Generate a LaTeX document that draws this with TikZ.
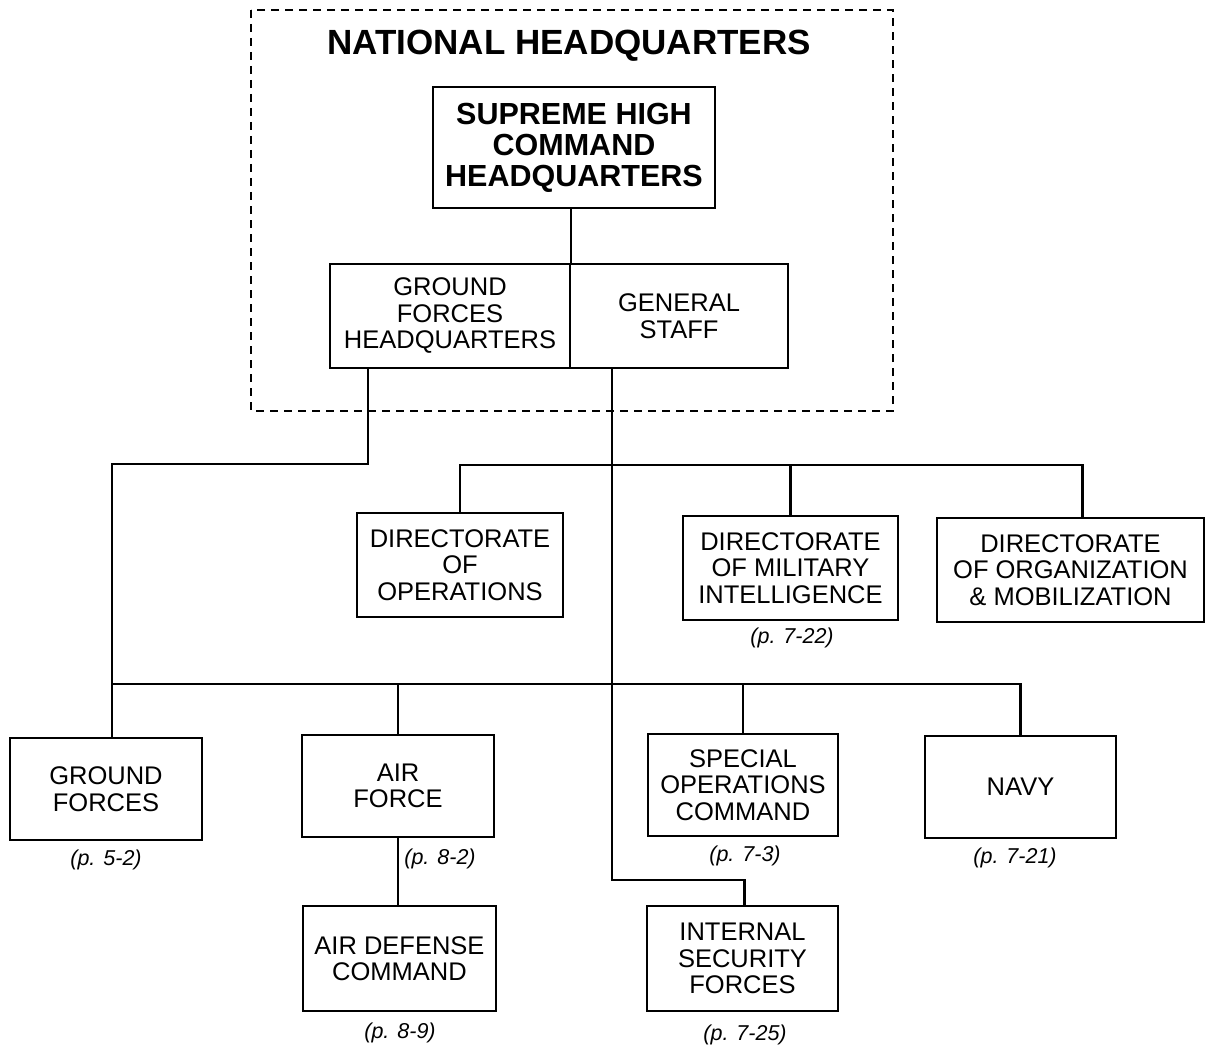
\documentclass[tikz,border=0pt]{standalone}
\usepackage{fontspec}
\setmainfont{Liberation Sans}
\begin{document}
\begin{tikzpicture}[x=1pt,y=-1pt,
  box/.style={draw,line width=2.2pt,rectangle,inner sep=0pt,align=center,
    font=\fontsize{25.5}{26.5}\selectfont},
  bbox/.style={box,font=\fontsize{30.5}{31}\selectfont\bfseries},
  ref/.style={inner sep=0pt,font=\fontsize{21.5}{23}\selectfont\itshape},
  conn/.style={line width=2.2pt},
  frame/.style={line width=1.2pt,dash pattern=on 8pt off 6pt}]
\useasboundingbox (0,0) rectangle (1209,1051);
\fill[white] (0,0) rectangle (1209,1051);
\draw[frame] (251,10) rectangle (893,411);
\node[inner sep=0pt,font=\fontsize{35}{37}\selectfont\bfseries] (title) at (569,46) {NATIONAL HEADQUARTERS};
\node[bbox,minimum width=282pt,minimum height=121pt] (shc) at (574,147.5) {SUPREME HIGH\\COMMAND\\HEADQUARTERS};
\node[box,minimum width=240pt,minimum height=104pt] (gfhq) at (450,316) {GROUND\\FORCES\\HEADQUARTERS};
\node[box,minimum width=218pt,minimum height=104pt] (gs) at (679,316) {GENERAL\\STAFF};
\node[box,minimum width=206pt,minimum height=104pt] (dop) at (460,565) {DIRECTORATE\\OF\\OPERATIONS};
\node[box,minimum width=215pt,minimum height=104pt] (dmi) at (790.5,568) {DIRECTORATE\\OF MILITARY\\INTELLIGENCE};
\node[box,minimum width=267pt,minimum height=104pt] (dom) at (1070.5,570) {DIRECTORATE\\OF ORGANIZATION\\\& MOBILIZATION};
\node[box,minimum width=192pt,minimum height=102pt] (gf) at (106,789) {GROUND\\FORCES};
\node[box,minimum width=192pt,minimum height=102pt] (af) at (398,786) {AIR\\FORCE};
\node[box,minimum width=193pt,minimum height=105pt] (adc) at (399.5,958.5) {AIR DEFENSE\\COMMAND};
\node[box,minimum width=190pt,minimum height=102pt] (soc) at (743,785) {SPECIAL\\OPERATIONS\\COMMAND};
\node[box,minimum width=191pt,minimum height=102pt] (nv) at (1020.5,787) {NAVY};
\node[box,minimum width=191pt,minimum height=105pt] (isf) at (742.5,958.5) {INTERNAL\\SECURITY\\FORCES};
\node[ref] (rdmi) at (792,638) {(p. 7-22)};
\node[ref] (rgf) at (106,860) {(p. 5-2)};
\node[ref] (raf) at (440,859) {(p. 8-2)};
\node[ref] (radc) at (400,1033) {(p. 8-9)};
\node[ref] (rsoc) at (745,856) {(p. 7-3)};
\node[ref] (rnv) at (1015,858) {(p. 7-21)};
\node[ref] (risf) at (745,1035) {(p. 7-25)};
\coordinate (busA) at (0,465);
\coordinate (busB) at (0,684);
\coordinate (domtop) at ([xshift=12pt]dom.north);
\coordinate (gftop) at ([xshift=6pt]gf.north);
\coordinate (isftop) at ([xshift=2pt]isf.north);
\draw[conn] (gfhq.north east |- shc.south) -- (gfhq.north east);
\draw[conn] ([xshift=39pt]gfhq.south west) -- ++(0,95) -| (gftop);
\draw[conn] ([xshift=43pt]gs.south west) -- ++(0,511) -| (isftop);
\draw[conn] (dop.north) -- (busA -| dop.north) -- (busA -| domtop) -- (domtop);
\draw[conn] (dmi.north) -- (busA -| dmi.north);
\draw[conn] (gftop |- busB) -- (busB -| nv.north) -- (nv.north);
\draw[conn] (af.north) -- (busB -| af.north);
\draw[conn] (soc.north) -- (busB -| soc.north);
\draw[conn] (af.south) -- (af.south |- adc.north);
\end{tikzpicture}
\end{document}
